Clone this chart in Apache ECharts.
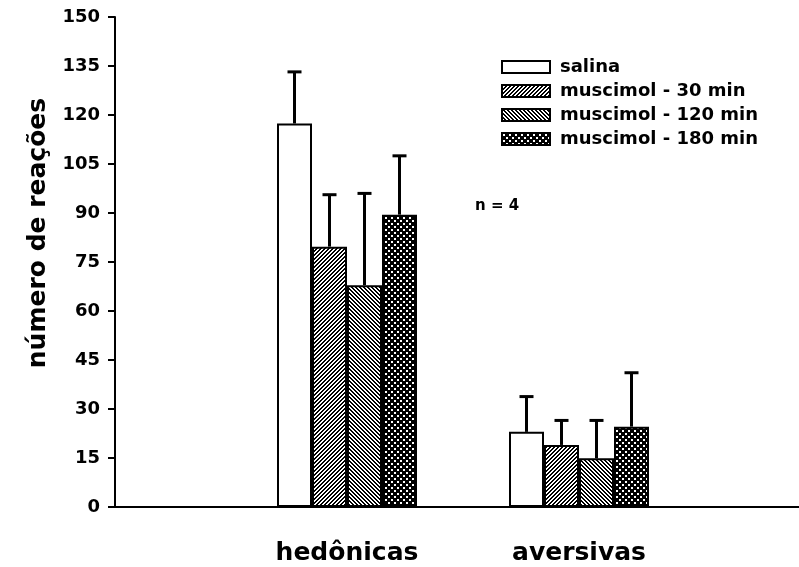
<!DOCTYPE html>
<html>
<head>
<meta charset="utf-8">
<script src="https://cdn.jsdelivr.net/npm/echarts@6/dist/echarts.min.js"></script>
<style>
html,body{margin:0;padding:0;background:#fff;overflow:hidden;}
#chart{width:814px;height:567px;}
</style>
</head>
<body>
<div id="chart"></div>
<script>
// ---- data ----
const categories = ['', 'hedônicas', 'aversivas', ''];
const seriesNames = ['salina', 'muscimol - 30 min', 'muscimol - 120 min', 'muscimol - 180 min'];
const salina = ['-', 117.4, 23.0, '-'];
const muscimol30 = ['-', 79.7, 19.0, '-'];
const muscimol120 = ['-', 67.9, 14.9, '-'];
const muscimol180 = ['-', 89.5, 24.6, '-'];
const salinaErr = [0, 15.8, 10.8, 0];
const muscimol30Err = [0, 15.9, 7.5, 0];
const muscimol120Err = [0, 28.1, 11.6, 0];
const muscimol180Err = [0, 18.0, 16.5, 0];
const yTicks = { min: 0, max: 150, interval: 15 };
const noteText = 'n = 4';
const yTitle = 'número de reações';

// ---- patterns ----
function makePattern(size, fn) {
  const c = document.createElement('canvas');
  c.width = size; c.height = size;
  const ctx = c.getContext('2d');
  const img = ctx.createImageData(size, size);
  for (let y = 0; y < size; y++) {
    for (let x = 0; x < size; x++) {
      const v = fn(x, y) ? 0 : 255;
      const i = (y * size + x) * 4;
      img.data[i] = v; img.data[i + 1] = v; img.data[i + 2] = v; img.data[i + 3] = 255;
    }
  }
  ctx.putImageData(img, 0, 0);
  return { image: c, repeat: 'repeat' };
}
const patSlash = makePattern(4, (x, y) => ((x + y) % 4) < 2);
const patBack = makePattern(4, (x, y) => (((x - y) % 4) + 4) % 4 < 2);
const patDots = makePattern(6, (x, y) => {
  const a = (x >= 1 && x <= 2 && y >= 1 && y <= 2);
  const b = (x >= 4 && x <= 5 && y >= 4 && y <= 5);
  return !(a || b);
});
const fills = ['#ffffff', patSlash, patBack, patDots];

const values = [salina, muscimol30, muscimol120, muscimol180];
const errs = [salinaErr, muscimol30Err, muscimol120Err, muscimol180Err];

const BAR_W = 35;
const FONT = 'DejaVu Sans';

const barSeries = seriesNames.map((name, s) => ({
  name: name,
  type: 'bar',
  barWidth: BAR_W,
  barGap: '0%',
  data: values[s],
  itemStyle: { color: fills[s], borderColor: '#000', borderWidth: 2 },
  emphasis: { disabled: true },
  z: 2
}));

const errData = [];
values.forEach((arr, s) => {
  arr.forEach((v, i) => {
    if (v !== '-') errData.push([i, v, errs[s][i], s]);
  });
});

const errSeries = {
  type: 'custom',
  name: 'err',
  data: errData,
  encode: { x: 0, y: 1 },
  z: 3,
  silent: true,
  renderItem: function (params, api) {
    const cat = api.value(0), v = api.value(1), e = api.value(2), s = api.value(3);
    const p0 = api.coord([cat, v]);
    const p1 = api.coord([cat, v + e]);
    const x = p0[0] + (s - 1.5) * BAR_W;
    const st = { stroke: '#000', lineWidth: 3 };
    return {
      type: 'group',
      children: [
        { type: 'line', shape: { x1: x, y1: p0[1], x2: x, y2: p1[1] }, style: st },
        { type: 'line', shape: { x1: x - 7, y1: p1[1], x2: x + 7, y2: p1[1] }, style: st }
      ]
    };
  }
};

const chart = echarts.init(document.getElementById('chart'), null, { renderer: 'canvas' });
chart.setOption({
  backgroundColor: '#fff',
  animation: false,
  textStyle: { fontFamily: FONT },
  grid: { left: 115, right: 0, top: 17, bottom: 60, containLabel: false },
  legend: {
    data: seriesNames,
    orient: 'vertical',
    left: 501,
    top: 58,
    padding: 0,
    icon: 'rect',
    itemWidth: 48,
    itemHeight: 12,
    itemGap: 6,
    selectedMode: false,
    itemStyle: { borderColor: '#000', borderWidth: 2 },
    textStyle: { fontFamily: FONT, fontWeight: 'bold', fontSize: 18, color: '#000', padding: [0, 0, 0, 5] }
  },
  xAxis: {
    type: 'category',
    data: categories,
    boundaryGap: false,
    axisLine: { lineStyle: { color: '#000', width: 2 } },
    axisTick: { show: false },
    splitLine: { show: false },
    axisLabel: { color: '#000', fontFamily: FONT, fontWeight: 'bold', fontSize: 25, margin: 34, interval: 0 }
  },
  yAxis: {
    type: 'value',
    min: yTicks.min, max: yTicks.max, interval: yTicks.interval,
    axisLine: { show: true, lineStyle: { color: '#000', width: 2 } },
    axisTick: { show: true, length: 7, lineStyle: { color: '#000', width: 2 } },
    splitLine: { show: false },
    axisLabel: { color: '#000', fontFamily: FONT, fontWeight: 'bold', fontSize: 18, margin: 15 }
  },
  graphic: [
    {
      type: 'text', left: 475, top: 199,
      style: { text: noteText, fill: '#000', fontFamily: FONT, fontWeight: 'bold', fontSize: 15 }
    },
    {
      type: 'text', x: 38, y: 233, rotation: Math.PI / 2,
      style: { text: yTitle, fill: '#000', fontFamily: FONT, fontWeight: 'bold', fontSize: 25, align: 'center', verticalAlign: 'middle' }
    }
  ],
  series: barSeries.concat([errSeries])
});
</script>
</body>
</html>
